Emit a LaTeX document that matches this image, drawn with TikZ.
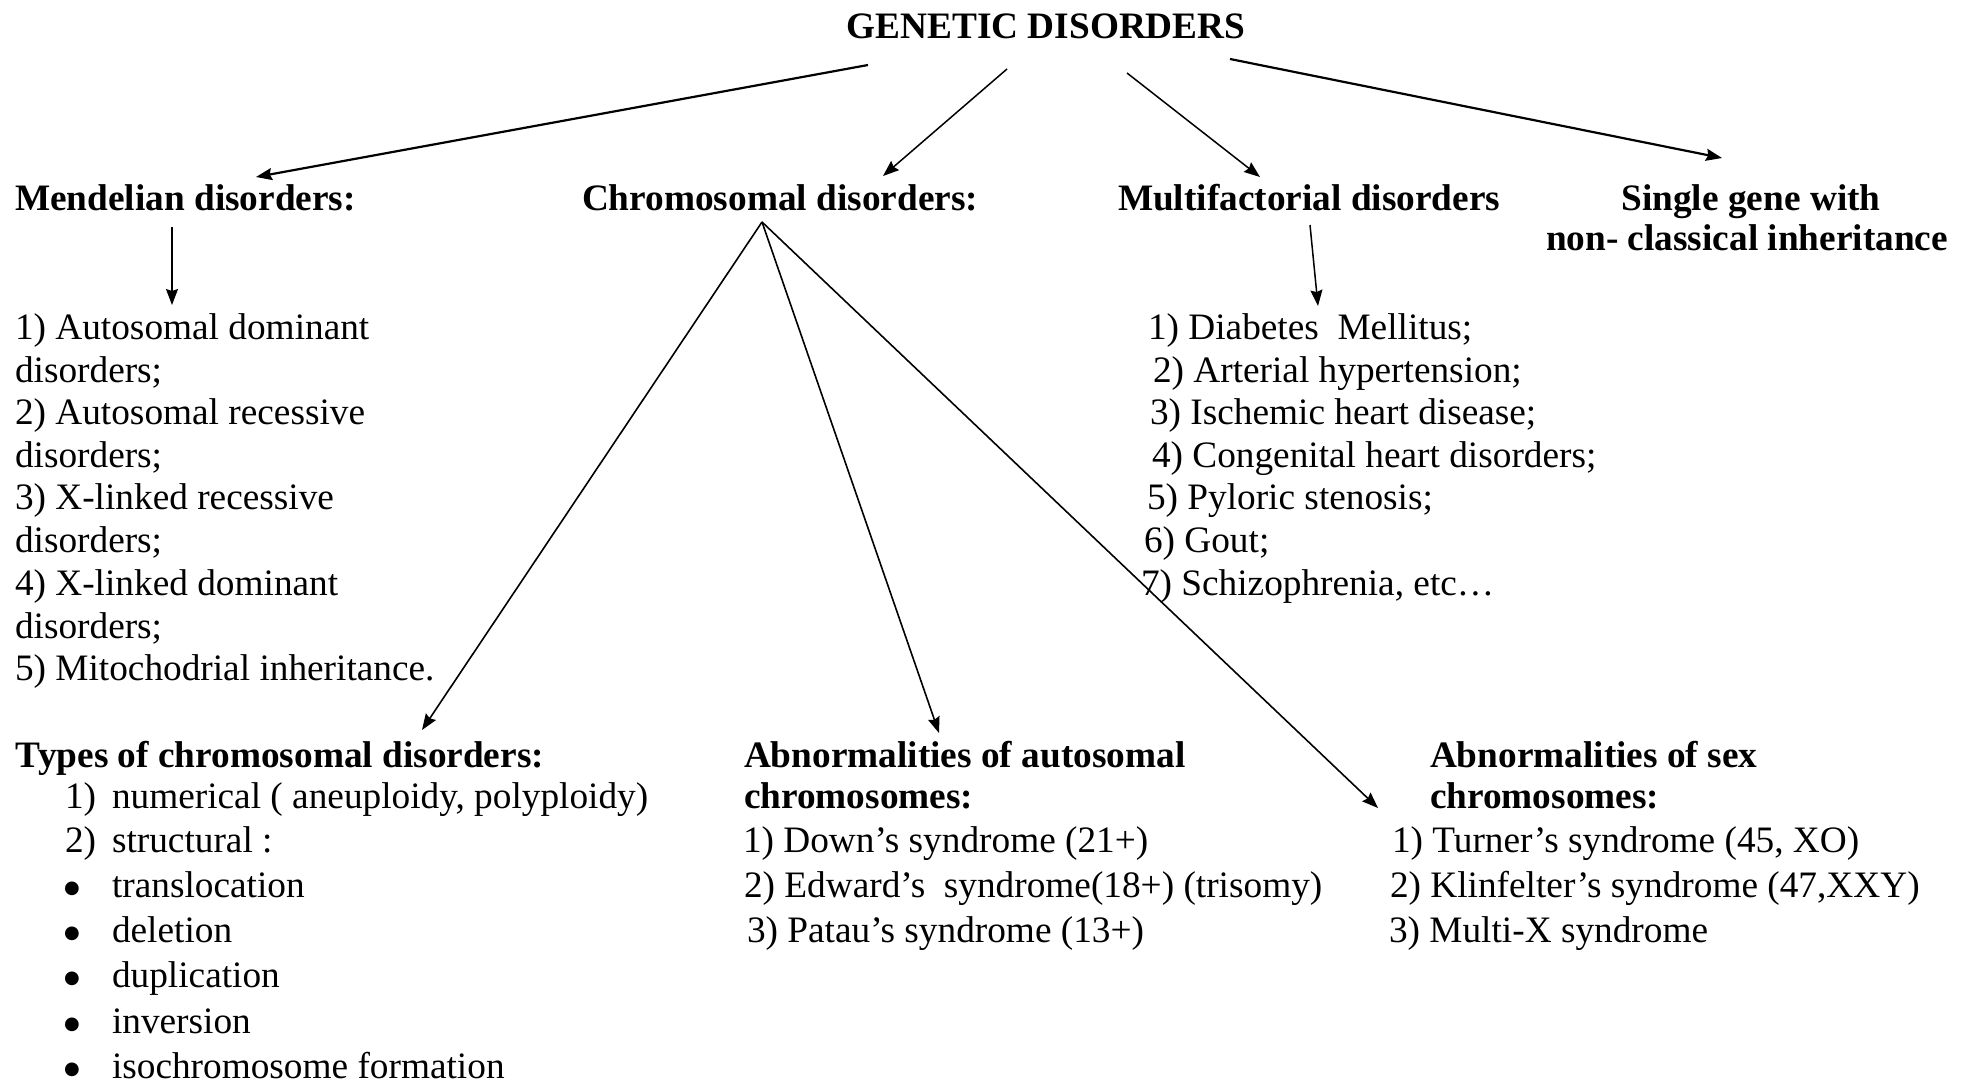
\documentclass[tikz,border=0pt]{standalone}
\usepackage{fontspec}
\setmainfont{Liberation Serif}
\newfontfamily\symfont{DejaVu Sans}
\usetikzlibrary{arrows.meta}
\newcommand\fs{\fontsize{37.3pt}{43pt}\selectfont}
\newcommand\bigbullet{\raisebox{4pt}{\symfont\fontsize{18pt}{20pt}\selectfont ●}}
\begin{document}
\begin{tikzpicture}[x=1pt,y=-1pt,
  txt/.style={anchor=base west,inner sep=0pt,outer sep=0pt,font=\fs},
  hd/.style={txt,font=\fs\bfseries},
  arr/.style={-{Stealth[length=16pt,width=12pt,inset=2pt]},line width=1.5pt},
  bigarr/.style={arr,line width=2.2pt},
  fan/.style={line width=1.6pt}]
\useasboundingbox (0,0) rectangle (1968,1084);
\fill[white] (0,0) rectangle (1968,1084);

% level 1 and 2
\node[hd,anchor=base] (title) at (1046,38) {GENETIC DISORDERS};
\node[hd] (mend) at (15,210) {Mendelian disorders:};
\node[hd] (chrom) at (582,210) {Chromosomal disorders:};
\node[hd] (multi) at (1118,210) {Multifactorial disorders};
\node[hd,anchor=base] (single1) at (1751,210) {Single gene with};
\node[hd,anchor=base] (single2) at (1747,250) {non- classical inheritance};

% Mendelian list
\node[txt] (m1) at (15,339) {1) Autosomal dominant};
\node[txt] (m2) at (15,382) {disorders;};
\node[txt] (m3) at (15,424) {2) Autosomal recessive};
\node[txt] (m4) at (15,467) {disorders;};
\node[txt] (m5) at (15,509) {3) X-linked recessive};
\node[txt] (m6) at (15,552) {disorders;};
\node[txt] (m7) at (15,595) {4) X-linked dominant};
\node[txt] (m8) at (15,638) {disorders;};
\node[txt] (m9) at (15,680) {5) Mitochodrial inheritance.};

% Multifactorial list
\node[txt] (f1) at (1148,339) {1) Diabetes~ Mellitus;};
\node[txt] (f2) at (1153,382) {2) Arterial hypertension;};
\node[txt] (f3) at (1150,424) {3) Ischemic heart disease;};
\node[txt] (f4) at (1152,467) {4) Congenital heart disorders;};
\node[txt] (f5) at (1147,509) {5) Pyloric stenosis;};
\node[txt] (f6) at (1144,552) {6) Gout;};
\node[txt] (f7) at (1141,595) {7) Schizophrenia, etc…};

% Types of chromosomal disorders
\node[hd] (types) at (16,767) {Types of chromosomal disorders:};
\node[txt] (t1n) at (65,808) {1)};
\node[txt] (t1) at (112,808) {numerical ( aneuploidy, polyploidy)};
\node[txt] (t2n) at (65,852) {2)};
\node[txt] (t2) at (112,852) {structural :};
\node[txt] (b1) at (64,897) {\bigbullet};
\node[txt] (t3) at (112,897) {translocation};
\node[txt] (b2) at (64,942) {\bigbullet};
\node[txt] (t4) at (112,942) {deletion};
\node[txt] (b3) at (64,987) {\bigbullet};
\node[txt] (t5) at (112,987) {duplication};
\node[txt] (b4) at (64,1033) {\bigbullet};
\node[txt] (t6) at (112,1033) {inversion};
\node[txt] (b5) at (64,1078) {\bigbullet};
\node[txt] (t7) at (112,1078) {isochromosome formation};

% Autosomal
\node[hd] (auto1) at (744,767) {Abnormalities of autosomal};
\node[hd] (auto2) at (744,808) {chromosomes:};
\node[txt] (a1) at (743,852) {1) Down’s syndrome (21+)};
\node[txt] (a2) at (744,897) {2) Edward’s~ syndrome(18+) (trisomy)};
\node[txt] (a3) at (747,942) {3) Patau’s syndrome (13+)};

% Sex
\node[hd] (sex1) at (1430,767) {Abnormalities of sex};
\node[hd] (sex2) at (1430,808) {chromosomes:};
\node[txt] (s1) at (1392,852) {1) Turner’s syndrome (45, XO)};
\node[txt] (s2) at (1390,897) {2) Klinfelter’s syndrome (47,XXY)};
\node[txt] (s3) at (1389,942) {3) Multi-X syndrome};

% connector ends
\coordinate (g1) at (868,65);   \coordinate (e1) at (256,177);
\coordinate (g2) at (1007,69);  \coordinate (e2) at (883,176);
\coordinate (g3) at (1127,73);  \coordinate (e3) at (1260,177);
\coordinate (g4) at (1230,59);  \coordinate (e4) at (1722,158);
\coordinate (ms) at (172,227);  \coordinate (me) at (172,305);
\coordinate (fs) at (1310,225); \coordinate (fe) at (1318,306);
\coordinate (c0) at (762,222);
\coordinate (ct) at (422,730);
\coordinate (ca) at (939,733);
\coordinate (cs) at (1378,808);

\draw[bigarr] (g1) -- (e1);
\draw[arr] (g2) -- (e2);
\draw[arr] (g3) -- (e3);
\draw[bigarr] (g4) -- (e4);
\draw[arr] (ms) -- (me);
\draw[arr] (fs) -- (fe);
\draw[arr,fan] (c0) -- (ct);
\draw[arr,fan] (c0) -- (ca);
\draw[arr,fan] (c0) -- (cs);
\end{tikzpicture}
\end{document}
